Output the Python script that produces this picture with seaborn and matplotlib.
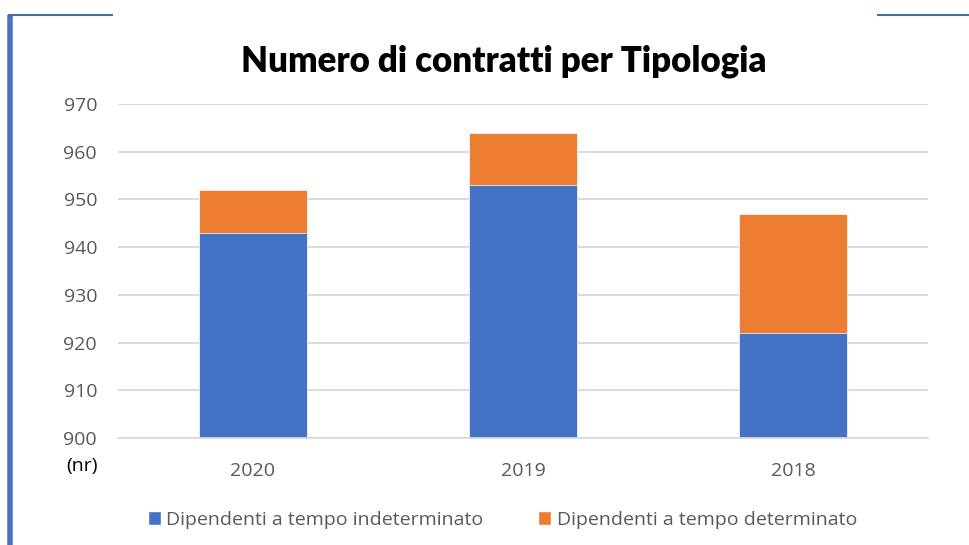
import matplotlib
matplotlib.use("Agg")
import matplotlib.pyplot as plt
import pandas as pd
import seaborn as sns
from matplotlib.lines import Line2D
from matplotlib.patches import Patch

anni = ["2020", "2019", "2018"]
indeterminato = [943, 953, 922]
determinato = [9, 11, 25]
serie = ["Dipendenti a tempo indeterminato", "Dipendenti a tempo determinato"]
y_ticks = [900, 910, 920, 930, 940, 950, 960, 970]

BLU = "#4472C4"
ARANCIO = "#ED7D31"
GRIGIO = "#595959"

sns.set_style("white")
plt.rcParams["font.family"] = ["Open Sans", "DejaVu Sans"]

df = pd.DataFrame({"anno": anni, "indet": indeterminato, "det": determinato})
df["totale"] = df["indet"] + df["det"]

fig = plt.figure(figsize=(9.7, 5.45), dpi=100)
ax = fig.add_axes([0.1216, 0.1963, 0.8351, 0.6129])

# barre impilate: totale in arancio, indeterminato in blu sopra
sns.barplot(data=df, x="anno", y="totale", color=ARANCIO, saturation=1,
            width=0.4, ax=ax, edgecolor="white", linewidth=0.5)
sns.barplot(data=df, x="anno", y="indet", color=BLU, saturation=1,
            width=0.4, ax=ax, edgecolor="white", linewidth=0.5)

ax.set_ylim(900, 970)
ax.set_xlim(-0.5, 2.5)
ax.set_yticks(y_ticks)
ax.yaxis.grid(True, color="#D9D9D9", linewidth=1.3)
ax.set_axisbelow(True)
sns.despine(ax=ax, left=True, top=True, right=True, bottom=False)
ax.spines["bottom"].set_color("#D9D9D9")
ax.spines["bottom"].set_linewidth(1.3)
ax.tick_params(axis="both", length=0, labelsize=14, colors=GRIGIO)
ax.tick_params(axis="y", pad=15)
ax.tick_params(axis="x", pad=17)
ax.set_xlabel("")
ax.set_ylabel("")

fig.text(0.519, 0.888, "Numero di contratti per Tipologia", ha="center", va="center",
         fontsize=25, fontweight="heavy", color="black", family=["Lato", "DejaVu Sans"])
fig.text(0.085, 0.145, "(nr)", ha="center", va="center", fontsize=14, color="black")

handles = [Patch(facecolor=BLU), Patch(facecolor=ARANCIO)]
fig.legend(handles, serie, loc="center", bbox_to_anchor=(0.518, 0.046), ncol=2,
           frameon=False, fontsize=14, handlelength=0.67, handleheight=0.67,
           handletextpad=0.3, columnspacing=2.8, labelcolor=GRIGIO)

# cornice decorativa
fig.add_artist(Line2D([0.0105, 0.0105], [0.0, 0.972], color="#4A73BE", linewidth=4,
                      solid_capstyle="butt", transform=fig.transFigure))
fig.add_artist(Line2D([0.008, 0.117], [0.972, 0.972], color="#41719C", linewidth=1.5,
                      solid_capstyle="butt", transform=fig.transFigure))
fig.add_artist(Line2D([0.904, 1.0], [0.973, 0.973], color="#41719C", linewidth=1.5,
                      solid_capstyle="butt", transform=fig.transFigure))

fig.savefig("out.png", dpi=100)
